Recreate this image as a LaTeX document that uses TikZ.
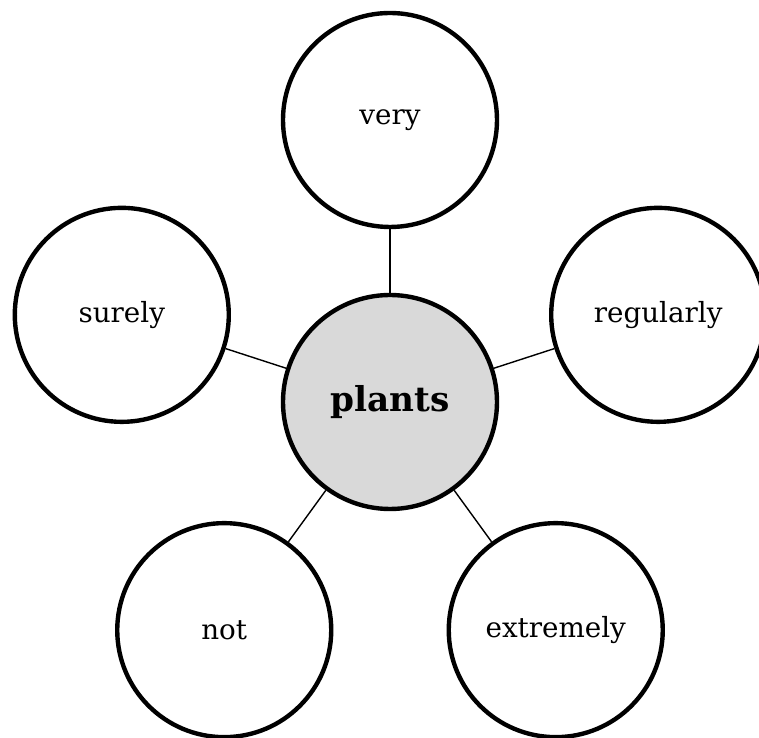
\documentclass[tikz,border=0pt]{standalone}
\usepackage{fontspec}
\setmainfont{DejaVu Serif}
\usepackage{tikz}

\begin{document}
\begin{tikzpicture}[
    word/.style={circle, draw, line width=2.5pt, minimum size=4.28cm, inner sep=0pt, font=\fontsize{15.8}{19}\selectfont},
    hub/.style={word, fill=black!15, font=\fontsize{19.5}{23}\selectfont\bfseries}
]
    \useasboundingbox (-7.80, -6.72) rectangle (7.38, 8.04);

    % Draw the centre node
    \node[hub] (plants) at (0, 0) {plants};

    % Draw nodes for the words around it
    \node[word] (very) at (90:5.64) {very};
    \node[word] (regularly) at (18:5.64) {regularly};
    \node[word] (surely) at (162:5.64) {surely};
    \node[word] (not) at (234:5.64) {not};
    \node[word] (extremely) at (306:5.64) {extremely};

    % Draw edges to the centre
    \draw[thick] (plants) -- (very);
    \draw[thick] (plants) -- (regularly);
    \draw[thick] (plants) -- (surely);
    \draw[thick] (plants) -- (not);
    \draw[thick] (plants) -- (extremely);
\end{tikzpicture}
\end{document}
